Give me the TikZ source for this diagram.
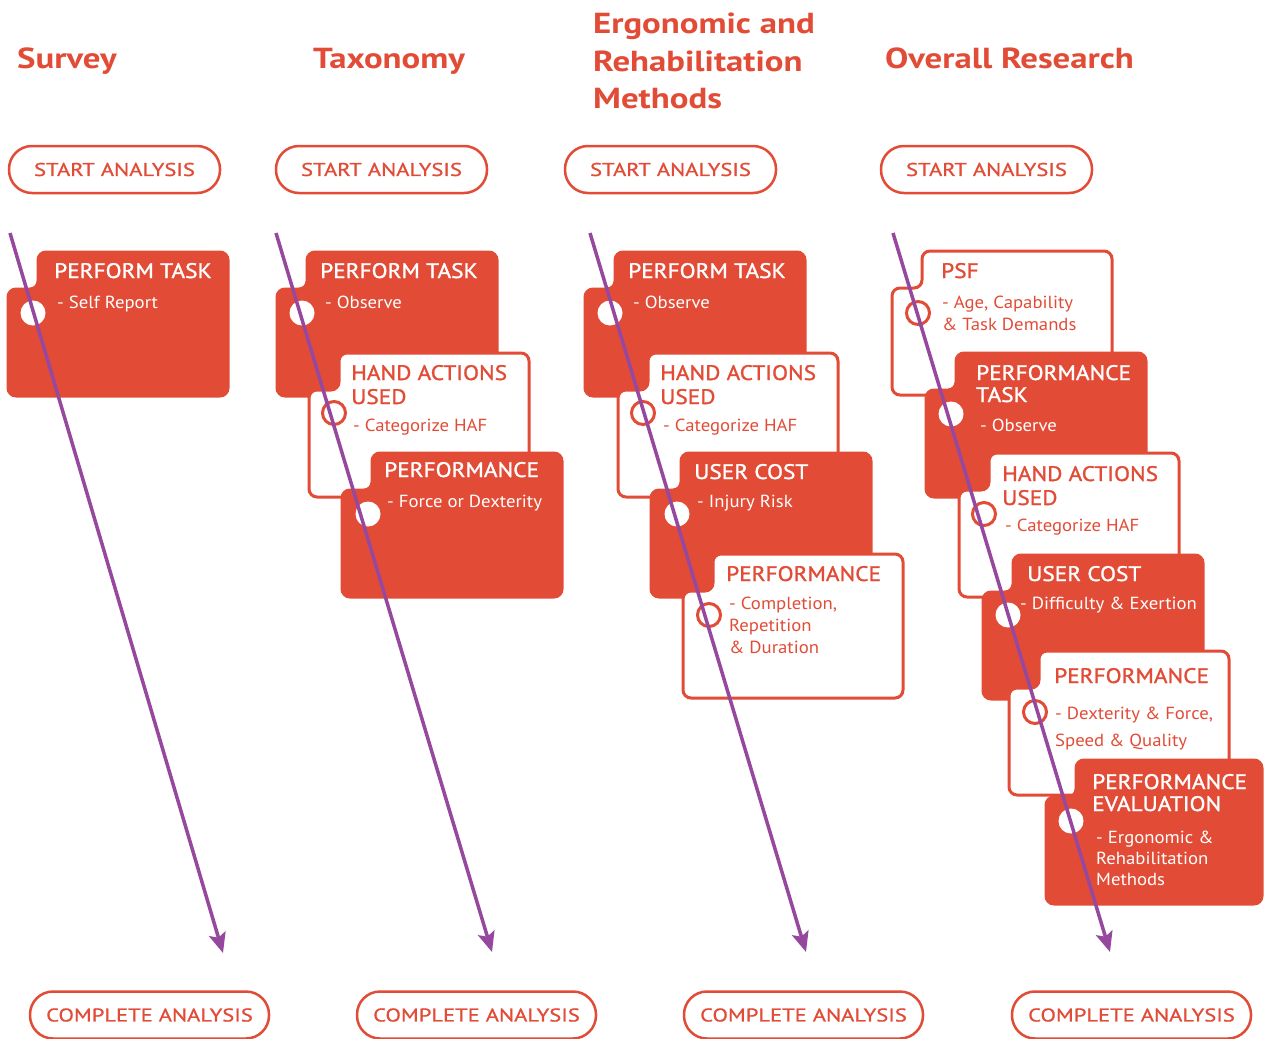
\documentclass[tikz,border=0pt]{standalone}
\usepackage{fontspec}
\setmainfont{PT Sans}
\newfontfamily\subfont[FakeStretch=1.07]{PT Sans}
\newfontfamily\ttlfont[FakeStretch=1.11, FakeBold=1.3]{PT Sans}
\newfontfamily\pillfont[FakeStretch=1.22, FakeBold=0.9]{PT Sans}
\newfontfamily\headfont[FakeStretch=1.2]{PT Sans}
\usetikzlibrary{arrows.meta}
\definecolor{cred}{RGB}{226,76,55}
\definecolor{cpurple}{RGB}{150,72,158}
\tikzset{
  redcard/.style={fill=cred, draw=cred, line width=3pt, rounded corners=8pt},
  whitecard/.style={fill=white, draw=cred, line width=3pt, rounded corners=8pt},
  pill/.style={draw=cred, line width=2.5pt, rounded corners=23pt, minimum width=211pt,
    minimum height=47pt, inner sep=0pt, text=cred, font=\pillfont\fontsize{18.5}{20}\selectfont},
  longpill/.style={pill, minimum width=239pt},
  head/.style={anchor=base west, inner sep=0pt, text=cred, font=\headfont\bfseries\fontsize{29}{32}\selectfont},
  ttlW/.style={anchor=base west, inner sep=0pt, text=white, font=\ttlfont\fontsize{21}{24}\selectfont},
  ttlR/.style={ttlW, text=cred},
  subW/.style={anchor=base west, inner sep=0pt, text=white, font=\subfont\fontsize{17.5}{20}\selectfont},
  subR/.style={subW, text=cred},
  dotwhite/.style={fill=white},
  dotred/.style={draw=cred, line width=3pt},
  arr/.style={draw=cpurple, line width=3.5pt, -{Stealth[length=20pt,width=17pt,inset=4pt]}}
}
\newcommand\cardshape[4]{%
  \path[#1] ({#2+#4/2},{#3}) -- ({#2+#4},{#3}) -- ({#2+#4},{#3+144}) -- ({#2},{#3+144})
    -- ({#2},{#3+37}) -- ({#2+30},{#3+37}) -- ({#2+30},{#3}) -- cycle;}
\newcommand\dotW[2]{\path[dotwhite] (#1,#2) circle[radius=12.5];}
\newcommand\dotR[2]{\path[dotred] (#1,#2) circle[radius=11.5];}
\begin{document}
\begin{tikzpicture}[x=1pt,y=-1pt]
\useasboundingbox[fill=white] (0,0) rectangle (1264,1039);
% headings
\node[head] (h1) at (17,68) {Survey};
\node[head] (h2) at (313,68) {Taxonomy};
\node[head] (h3a) at (593,33) {Ergonomic and};
\node[head] (h3b) at (593,71) {Rehabilitation};
\node[head] (h3c) at (593,108) {Methods};
\node[head] (h4) at (885,68) {Overall Research};
% start pills
\node[pill] (start1) at (114.5,169.5) {START ANALYSIS};
\node[pill] (start2) at (381.5,169.5) {START ANALYSIS};
\node[pill] (start3) at (670.5,169.5) {START ANALYSIS};
\node[pill] (start4) at (986.5,169.5) {START ANALYSIS};
% complete pills
\node[longpill] (end1) at (149.5,1015) {COMPLETE ANALYSIS};
\node[longpill] (end2) at (476.5,1015) {COMPLETE ANALYSIS};
\node[longpill] (end3) at (803.5,1015) {COMPLETE ANALYSIS};
\node[longpill] (end4) at (1131.5,1015) {COMPLETE ANALYSIS};
% column 1
\cardshape{redcard}{8}{252}{220}
\dotW{33}{313}
\node[ttlW] (a1t) at (54,278) {PERFORM TASK};
\node[subW] (a1s) at (57,308) {- Self Report};
% column 2
\cardshape{redcard}{277}{252}{220}
\dotW{302}{313}
\node[ttlW] (b1t) at (320,278) {PERFORM TASK};
\node[subW] (b1s) at (325,308) {- Observe};
\cardshape{whitecard}{309}{353}{220}
\dotR{334}{413}
\node[ttlR] (b2t) at (351,380) {HAND ACTIONS};
\node[ttlR] (b2u) at (351,404) {USED};
\node[subR] (b2s) at (353,431) {- Categorize HAF};
\cardshape{redcard}{342}{453}{220}
\dotW{368}{514}
\node[ttlW] (b3t) at (384,477) {PERFORMANCE};
\node[subW] (b3s) at (387,507) {- Force or Dexterity};
% column 3
\cardshape{redcard}{585}{252}{220}
\dotW{610}{313}
\node[ttlW] (c1t) at (628,278) {PERFORM TASK};
\node[subW] (c1s) at (633,308) {- Observe};
\cardshape{whitecard}{618}{353}{220}
\dotR{643}{413}
\node[ttlR] (c2t) at (660,380) {HAND ACTIONS};
\node[ttlR] (c2u) at (660,404) {USED};
\node[subR] (c2s) at (663,431) {- Categorize HAF};
\cardshape{redcard}{651}{453}{220}
\dotW{677}{514}
\node[ttlW] (c3t) at (694,479) {USER COST};
\node[subW] (c3s) at (697,507) {- Injury Risk};
\cardshape{whitecard}{683}{554}{220}
\dotR{709}{615}
\node[ttlR] (c4t) at (726,581) {PERFORMANCE};
\node[subR] (c4s) at (729,609) {- Completion,};
\node[subR] (c4u) at (729,631) {Repetition};
\node[subR] (c4v) at (729,653) {\& Duration};
% column 4
\cardshape{whitecard}{892}{251}{220}
\dotR{918}{313}
\node[ttlR] (d1t) at (941,278) {PSF};
\node[subR] (d1s) at (942,308) {- Age, Capability};
\node[subR] (d1u) at (942,330) {\& Task Demands};
\cardshape{redcard}{926}{353}{220}
\dotW{951}{414}
\node[ttlW] (d2t) at (976,380) {PERFORMANCE};
\node[ttlW] (d2u) at (976,402) {TASK};
\node[subW] (d2s) at (980,431) {- Observe};
\cardshape{whitecard}{959}{453}{220}
\dotR{984}{514}
\node[ttlR] (d3t) at (1002,481) {HAND ACTIONS};
\node[ttlR] (d3u) at (1002,505) {USED};
\node[subR] (d3s) at (1005,531) {- Categorize HAF};
\cardshape{redcard}{983}{555}{220}
\dotW{1008}{615}
\node[ttlW] (d4t) at (1027,581) {USER COST};
\node[subW] (d4s) at (1020,609) {- Difficulty \& Exertion};
\cardshape{whitecard}{1009}{651}{220}
\dotR{1035}{712}
\node[ttlR] (d5t) at (1054,683) {PERFORMANCE};
\node[subR] (d5s) at (1055,719) {- Dexterity \& Force,};
\node[subR] (d5u) at (1055,746) {Speed \& Quality};
\cardshape{redcard}{1046}{760}{216}
\dotW{1071}{821}
\node[ttlW] (d6t) at (1092,789) {PERFORMANCE};
\node[ttlW] (d6u) at (1092,811) {EVALUATION};
\node[subW] (d6s) at (1096,843) {- Ergonomic \&};
\node[subW] (d6v) at (1096,864) {Rehabilitation};
\node[subW] (d6w) at (1096,885) {Methods};
% arrows
\coordinate (s1) at (10,233);  \coordinate (e1) at (223,953);
\coordinate (s2) at (276,233); \coordinate (e2) at (492,952);
\coordinate (s3) at (590,233); \coordinate (e3) at (806,952);
\coordinate (s4) at (893,233); \coordinate (e4) at (1110,952);
\draw[arr] (s1) -- (e1);
\draw[arr] (s2) -- (e2);
\draw[arr] (s3) -- (e3);
\draw[arr] (s4) -- (e4);
\end{tikzpicture}
\end{document}
